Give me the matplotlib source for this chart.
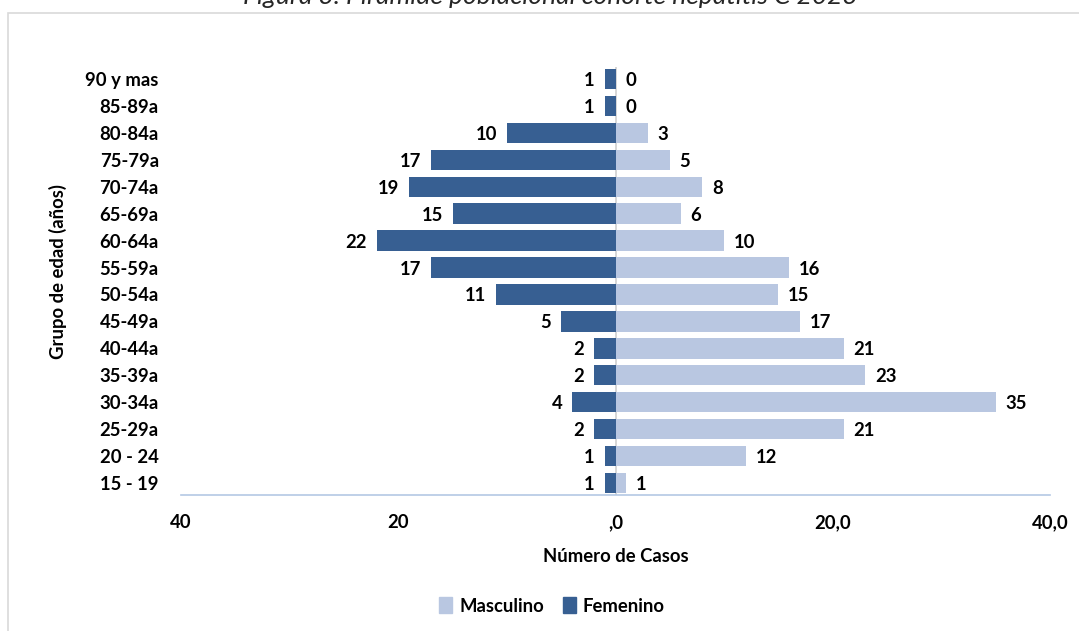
import matplotlib
matplotlib.use("Agg")
import matplotlib.pyplot as plt
from matplotlib.patches import Rectangle, Patch
import numpy as np

# Age groups, top to bottom as shown
age_groups = ["90 y mas", "85-89a", "80-84a", "75-79a", "70-74a", "65-69a", "60-64a",
              "55-59a", "50-54a", "45-49a", "40-44a", "35-39a", "30-34a", "25-29a",
              "20 - 24", "15 - 19"]
masculino = [0, 0, 3, 5, 8, 6, 10, 16, 15, 17, 21, 23, 35, 21, 12, 1]
femenino = [1, 1, 10, 17, 19, 15, 22, 17, 11, 5, 2, 2, 4, 2, 1, 1]
x_ticks = [-40, -20, 0, 20, 40]
x_tick_labels = ["40", "20", ",0", "20,0", "40,0"]

plt.rcParams["font.family"] = ["Lato", "DejaVu Sans"]
TXT = "#000000"
C_MASC = "#B9C7E1"
C_FEM = "#375F92"
FS = 13.3

fig = plt.figure(figsize=(10.79, 6.31), dpi=100)

# outer chart frame
fig.patches.append(Rectangle((8 / 1079, -0.05), 1.2, 1 - 13 / 631 + 0.05,
                             transform=fig.transFigure, fill=False,
                             edgecolor="#D9D9D9", linewidth=1.2))

fig.text(0.51, 1 - 4 / 631, "Figura 3. Pirámide poblacional cohorte hepatitis C 2023",
         ha="center", va="baseline", fontsize=19, style="italic", color="#262626")

ax = fig.add_axes([181 / 1079, 1 - 495 / 631, (1050 - 181) / 1079, (495 - 67) / 631])

n = len(age_groups)
ypos = np.arange(n)[::-1]  # first group at top

ax.barh(ypos, masculino, height=0.76, color=C_MASC, zorder=2)
ax.barh(ypos, [-v for v in femenino], height=0.76, color=C_FEM, zorder=2)

for y, m, f in zip(ypos, masculino, femenino):
    ax.text(m + 0.9, y, f"{m}", ha="left", va="center_baseline", fontsize=FS,
            fontweight="bold", color=TXT)
    ax.text(-f - 0.9, y, f"{f}", ha="right", va="center_baseline", fontsize=FS,
            fontweight="bold", color=TXT)

ax.axvline(0, color="#D0D0D0", linewidth=1.2, zorder=1)

ax.set_xlim(-40, 40)
ax.set_ylim(-0.45, n - 0.55)
ax.set_yticks(ypos)
ax.set_yticklabels(age_groups, fontsize=FS, fontweight="bold", color=TXT)
ax.set_xticks(x_ticks)
ax.set_xticklabels(x_tick_labels, fontsize=FS, fontweight="bold", color=TXT)
ax.tick_params(axis="both", length=0)
ax.tick_params(axis="x", pad=14)
ax.tick_params(axis="y", pad=16)

for s in ["top", "right", "left"]:
    ax.spines[s].set_visible(False)
ax.spines["bottom"].set_color("#B4C8E4")
ax.spines["bottom"].set_linewidth(1.2)

ax.set_xlabel("Número de Casos", fontsize=FS, fontweight="bold", color=TXT, labelpad=12)
fig.text(58 / 1079, 1 - 272 / 631, "Grupo de edad (años)", rotation=90,
         ha="center", va="center", fontsize=FS, fontweight="bold", color=TXT)

handles = [Patch(color=C_MASC, label="Masculino"), Patch(color=C_FEM, label="Femenino")]
fig.legend(handles=handles, loc="center", bbox_to_anchor=(552 / 1079, 1 - 606 / 631),
           ncol=2, frameon=False, handlelength=0.7, handleheight=0.9,
           handletextpad=0.4, columnspacing=1.0, prop={"weight": "bold", "size": FS})

fig.savefig("out.png", dpi=100)
